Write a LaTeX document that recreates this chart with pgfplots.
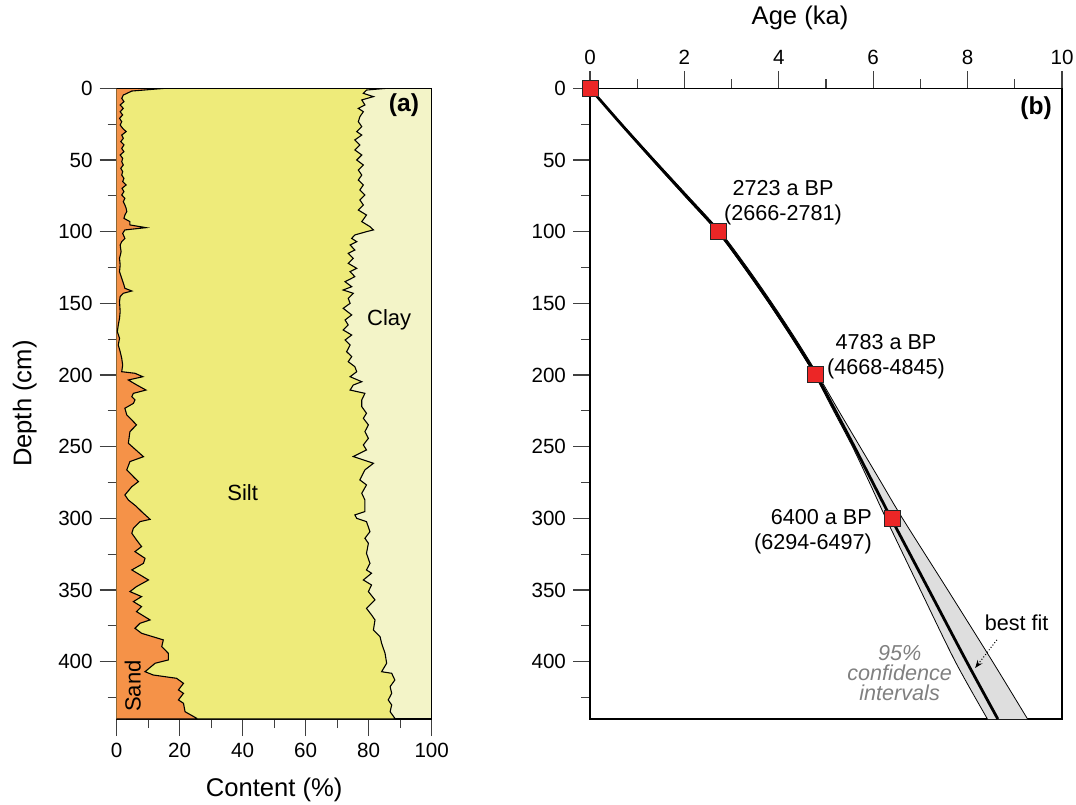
\documentclass[border=0pt]{standalone}
\usepackage{fontspec}
\setmainfont{Liberation Sans}
\usepackage{pgfplots}
\pgfplotsset{compat=1.18}
\usepackage{pgfplotstable}
\usetikzlibrary{arrows.meta}

\definecolor{sandcol}{RGB}{245,146,72}
\definecolor{siltcol}{RGB}{238,235,122}
\definecolor{claycol}{RGB}{243,244,200}
\definecolor{bandcol}{RGB}{222,222,222}
\definecolor{datecol}{RGB}{236,38,38}

% sand / silt boundary (% of content) against depth, closed on the left edge
\pgfplotstableread{
pct depth
0 0
15.3 0
4.8 1.9
2.1 4.7
1.6 7.0
2.3 9.3
1.1 11.6
2.1 14.0
1.1 16.3
1.9 18.6
0.9 20.9
1.6 23.3
1.1 25.6
1.9 27.9
3.0 30.2
1.6 32.6
2.1 34.9
1.3 37.2
2.3 39.5
1.6 41.9
2.3 44.2
1.1 46.5
1.9 48.8
1.6 51.2
2.1 53.5
1.3 55.8
1.9 58.1
1.6 60.5
2.3 62.8
1.9 65.1
3.0 67.4
1.7 69.8
2.3 72.1
1.6 74.4
2.6 76.7
2.1 79.1
2.6 81.4
3.0 83.7
3.2 86.0
2.6 88.4
2.3 90.7
4.2 93.0
4.2 95.3
9.3 97.2
2.6 98.8
1.9 101.2
2.6 104.7
1.6 107.0
1.1 109.3
1.4 114.0
0.9 118.6
1.1 123.3
0.9 127.9
1.6 132.6
2.3 137.2
2.6 139.5
4.8 141.4
2.1 143.0
1.1 145.3
0.9 148.8
1.1 155.8
0.9 160.5
0.5 165.1
0.2 169.8
0.9 174.4
0.5 179.1
1.1 183.7
1.6 188.4
1.9 193.0
1.6 197.7
5.8 198.8
8.3 201.2
3.7 203.5
6.4 207.0
9.3 210.5
5.3 212.8
4.8 215.1
5.8 217.4
5.3 219.8
2.6 223.2
3.2 227.9
4.8 231.4
6.3 234.8
4.2 239.5
3.7 247.6
8.5 257.0
4.2 260.4
3.2 266.2
5.3 270.9
6.9 274.4
4.8 277.9
2.6 283.7
3.7 287.2
6.3 291.8
7.9 295.3
10.6 300.7
7.4 302.3
5.3 306.9
4.8 310.4
6.3 315.1
7.9 319.7
5.8 323.2
9.0 327.9
8.5 331.4
4.8 336.0
10.1 343.0
6.3 347.6
4.2 351.1
7.9 354.6
5.3 358.1
7.9 361.6
6.3 365.1
10.6 370.9
7.4 373.2
5.8 376.7
7.9 380.2
14.8 384.8
14.3 389.5
16.4 394.2
16.4 398.8
12.2 401.1
9.0 407.0
11.6 409.3
19.0 411.6
21.2 415.1
19.6 419.7
21.2 422.1
19.6 426.7
21.2 429.0
21.7 434.9
25.4 439.5
25.4 440
0 440
}\sandtab

% silt / clay boundary (% of content) against depth
\pgfplotstableread{
pct depth
0 0
85.7 0
79.3 1.2
78.3 3.5
81.5 5.8
77.8 8.1
78.8 11.6
76.7 14.0
78.3 16.3
77.2 19.8
76.7 23.3
77.8 26.7
76.2 30.2
77.8 32.6
75.6 36.0
77.2 39.5
75.6 43.0
77.8 46.5
76.2 50.0
78.3 53.5
76.7 57.0
77.8 60.5
76.7 64.0
78.3 67.4
77.2 70.9
78.8 74.4
77.2 77.9
78.3 81.4
76.7 84.9
79.3 88.4
77.8 93.0
80.4 96.5
81.5 98.8
79.3 100.0
75.6 102.3
74.6 104.7
76.2 107.0
74.1 109.3
75.6 112.8
73.5 115.1
75.1 118.6
73.5 122.1
76.2 125.6
74.1 127.9
75.6 131.4
72.5 134.9
74.6 138.4
71.9 140.7
75.1 143.0
73.5 146.5
74.1 150.0
71.9 153.5
74.6 158.1
72.5 161.6
73.5 165.1
71.9 168.6
74.6 172.1
72.5 175.6
74.1 179.1
73.0 183.7
74.6 187.2
73.5 190.7
75.6 194.2
76.2 197.7
74.1 201.2
77.8 204.7
75.1 207.0
74.1 210.5
78.8 212.8
77.8 217.4
77.8 222.1
79.3 226.7
78.3 230.2
79.9 234.8
78.8 239.5
79.9 244.2
78.3 248.8
79.3 252.3
75.1 256.9
81.5 261.6
78.8 266.2
77.2 273.2
79.3 276.7
77.8 282.5
78.8 287.2
78.8 295.3
75.6 297.6
76.2 300.0
79.3 302.3
80.4 309.3
78.8 313.9
79.9 317.4
79.3 324.4
80.4 331.4
79.3 336.0
80.9 338.3
78.3 343.0
80.9 346.5
79.9 351.1
82.0 356.9
79.3 362.8
80.9 367.4
82.0 370.9
81.5 377.9
83.6 382.5
84.1 387.2
85.2 394.2
85.7 401.1
84.1 407.0
87.3 408.1
88.3 412.8
86.8 417.4
87.3 422.1
86.2 426.7
87.3 430.2
86.8 434.9
88.3 439.5
88.3 440
0 440
}\claytab

% age model: best fit and 95% limits
\pgfplotstableread{
depth fit lo hi
0 0 0 0
25 0.66 0.65 0.68
50 1.34 1.32 1.37
75 2.03 2.01 2.07
100 2.72 2.70 2.76
125 3.29 3.26 3.33
150 3.82 3.79 3.86
175 4.32 4.29 4.36
200 4.79 4.76 4.83
225 5.20 5.16 5.27
250 5.60 5.56 5.72
275 5.99 5.92 6.17
300 6.38 6.27 6.62
350 7.18 7.00 7.58
400 7.98 7.74 8.53
440 8.64 8.42 9.27
}\agetab

% same limits as one closed outline for the grey fill
\pgfplotstableread{
age depth
0 0
0.65 25
1.32 50
2.01 75
2.70 100
3.26 125
3.79 150
4.29 175
4.76 200
5.16 225
5.56 250
5.92 275
6.27 300
7.00 350
7.74 400
8.42 440
9.27 440
8.53 400
7.58 350
6.62 300
6.17 275
5.72 250
5.27 225
4.83 200
4.36 175
3.86 150
3.33 125
2.76 100
2.07 75
1.37 50
0.68 25
0 0
}\bandtab

\pgfplotsset{
  core/.style={
    scale only axis,
    height=315.35pt,
    y dir=reverse,
    ymin=0, ymax=440,
    ytick={0,50,...,400},
    minor ytick={25,75,...,425},
    ytick pos=left,
    tick align=outside,
    major tick length=8.5pt,
    minor tick length=4.5pt,
    every tick/.style={black!75, line width=0.6pt},
    axis line style={line width=0.6pt},
    tick label style={font=\fontsize{10.3}{12}\selectfont},
    /pgf/number format/assume math mode=true,
    label style={font=\fontsize{12.8}{15}\selectfont},
  },
}

\begin{document}
\begin{tikzpicture}
\path[use as bounding box] (0,0) rectangle (538pt,402pt);

% (a) grain size
\begin{axis}[
  core,
  at={(58.35pt,42.5pt)}, anchor=south west,
  width=157.5pt,
  xmin=0, xmax=100,
  xtick={0,20,...,100},
  minor xtick={10,30,...,90},
  xtick pos=left,
  axis background/.style={fill=claycol},
  xlabel={Content (\%)},
  ylabel={Depth (cm)},
  xlabel style={at={(axis description cs:0.5,0)}, yshift=-35.5pt, anchor=center},
  ylabel style={at={(axis description cs:-0.292,0.5)}, anchor=center},
]
\addplot[fill=siltcol, draw=black, line width=0.55pt] table[x=pct, y=depth] {\claytab};
\addplot[fill=sandcol, draw=black, line width=0.55pt] table[x=pct, y=depth] {\sandtab};
\node[font=\bfseries\fontsize{12.3}{14}\selectfont] at (axis cs:91.2,11.7) {(a)};
\node[font=\fontsize{11}{13}\selectfont] at (axis cs:86.5,161.5) {Clay};
\node[font=\fontsize{11}{13}\selectfont] at (axis cs:40,282) {Silt};
\node[font=\fontsize{11}{13}\selectfont, rotate=90] at (axis cs:5.1,417) {Sand};
\end{axis}

% (b) age-depth model
\begin{axis}[
  core,
  at={(295pt,42.5pt)}, anchor=south west,
  width=236pt,
  xmin=0, xmax=10,
  xtick={0,2,...,10},
  minor xtick={1,3,...,9},
  xtick pos=right,
  xticklabel pos=right,
  clip=false,
  xlabel={Age (ka)},
  xlabel style={at={(axis description cs:0.445,1)}, yshift=35pt, anchor=center},
]
\addplot[fill=bandcol, draw=none] table[x=age, y=depth] {\bandtab};
\addplot[draw=black, line width=0.4pt, smooth] table[x=lo, y=depth] {\agetab};
\addplot[draw=black, line width=0.4pt, smooth] table[x=hi, y=depth] {\agetab};
\addplot[black, line width=1.4pt, smooth] table[x=fit, y=depth] {\agetab};
\addplot[only marks, mark=square*, mark size=4pt,
  mark options={fill=datecol, draw=black!85, line width=0.5pt}]
  coordinates {(0,0) (2.723,100) (4.783,200) (6.400,300)};
\node[font=\bfseries\fontsize{12.3}{14}\selectfont] at (axis cs:9.45,14) {(b)};
\node[font=\fontsize{10.8}{12.5}\selectfont, align=center] at (axis cs:4.09,80) {2723 a BP\\(2666-2781)};
\node[font=\fontsize{10.8}{12.5}\selectfont, align=center] at (axis cs:6.27,187.5) {4783 a BP\\(4668-4845)};
\node[font=\fontsize{10.8}{12.5}\selectfont, align=right, anchor=east] at (axis cs:6.12,309.5) {6400 a BP\\(6294-6497)};
\node[font=\fontsize{10.8}{12.5}\selectfont] at (axis cs:9.04,373) {best fit};
\draw[densely dotted, line width=0.5pt, -{Stealth[length=4pt]}] (axis cs:8.62,384.8) -- (axis cs:8.16,404.4);
\node[font=\itshape\fontsize{10.8}{10}\selectfont, text=black!50, align=center] at (axis cs:6.56,408) {95\%\\confidence\\intervals};
\end{axis}
\end{tikzpicture}
\end{document}
